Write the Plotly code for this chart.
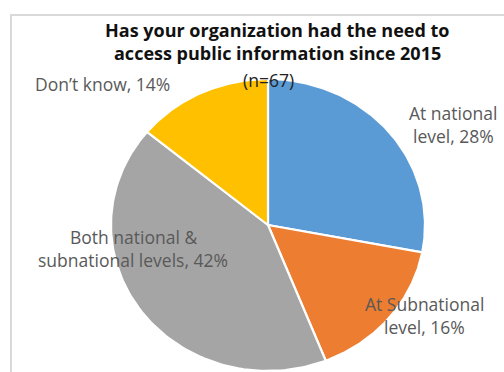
import numpy as np
import plotly.graph_objects as go

# Survey responses (share of organisations, %)
categories = ["At national level", "At Subnational level",
              "Both national & subnational levels", "Don\u2019t know"]
label_lines = [["At national", "level"], ["At Subnational", "level"],
               ["Both national &", "subnational levels"], ["Don\u2019t know"]]
shares = [28, 16, 42, 14]
colors = ["#5B9BD5", "#ED7D31", "#A5A5A5", "#FFC000"]

title_lines = ["Has your organization had the need to",
               "access public information since 2015"]
sample_note = "(n=67)"

W, H = 504, 372
CX, CY = 268, 225          # pie centre in px
RX, RY = 157, 146          # horizontal / vertical radii in px

# axis ranges so that the unit circle lands on the ellipse above
x_range = [-CX / RX, (W - CX) / RX]
y_range = [(CY - H) / RY, CY / RY]


def px(x, y):
    return x / W, 1 - y / H


fig = go.Figure()

total = sum(shares)
start = 0.0
for name, val, col in zip(categories, shares, colors):
    end = start + val / total
    t = np.linspace(start, end, 120) * 2 * np.pi
    xs = np.concatenate([[0], np.sin(t), [0]])
    ys = np.concatenate([[0], np.cos(t), [0]])
    fig.add_trace(go.Scatter(
        x=xs, y=ys, mode="lines", fill="toself", fillcolor=col,
        line=dict(color="white", width=2.2), name=name,
        hoverinfo="name", showlegend=False))
    start = end

# slice labels: (centre x px, first-line y px)
label_pos = [(453, 113), (424, 304), (133, 237), (102, 84)]
label_font = dict(family="Open Sans", size=17.5, color="#595959")
line_gap = 23
for lines, val, (lx, ly) in zip(label_lines, shares, label_pos):
    texts = list(lines)
    texts[-1] = f"{texts[-1]}, {val}%"
    for i, txt in enumerate(texts):
        xp, yp = px(lx, ly + i * line_gap)
        fig.add_annotation(x=xp, y=yp, xref="paper", yref="paper",
                           text=txt, showarrow=False, font=label_font,
                           xanchor="center", yanchor="middle")

# chart title
for i, txt in enumerate(title_lines):
    xp, yp = px(277, 30 + i * 23)
    fig.add_annotation(x=xp, y=yp, xref="paper", yref="paper",
                       text=f"<b>{txt}</b>", showarrow=False,
                       font=dict(family="Open Sans", size=18, color="#111111"),
                       xanchor="center", yanchor="middle")
xp, yp = px(268, 80)
fig.add_annotation(x=xp, y=yp, xref="paper", yref="paper", text=sample_note,
                   showarrow=False,
                   font=dict(family="Open Sans", size=17.5, color="#222222"),
                   xanchor="center", yanchor="middle")

# chart frame
fx0, fy0 = px(11, 15)
fig.add_shape(type="rect", xref="paper", yref="paper",
              x0=fx0, y0=fy0, x1=1.2, y1=-0.2,
              line=dict(color="#D9D9D9", width=2), fillcolor="rgba(0,0,0,0)",
              layer="below")

fig.update_layout(
    width=W, height=H, margin=dict(l=0, r=0, t=0, b=0),
    paper_bgcolor="white", plot_bgcolor="white",
    xaxis=dict(range=x_range, visible=False, fixedrange=True),
    yaxis=dict(range=y_range, visible=False, fixedrange=True),
    showlegend=False,
)

fig.write_html("out.html")
